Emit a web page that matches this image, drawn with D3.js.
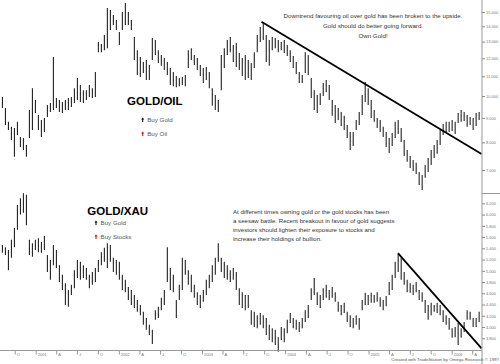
<!DOCTYPE html>
<html>
<head>
<meta charset="utf-8">
<script src="https://cdn.jsdelivr.net/npm/d3@7"></script>
<style>
body { margin: 0; background: #fff; }
svg { display: block; font-family: "Liberation Sans", Arial, sans-serif; }
</style>
</head>
<body>
<script>
var width = 500, height = 364;

// one bar roughly every 13 days, first bar in early Aug 2000
var startDate = new Date(2000, 7, 8), stepDays = 13.16;

var goldOilHigh = [
  9.95, 9.44, 8.83, 8.62, 8.57, 8.83, 8.21, 8.17, 7.90, 9.35,
  10.39, 9.81, 9.13, 8.91, 9.00, 9.58, 9.67, 12.07, 9.91, 9.81,
  9.72, 9.81, 9.91, 9.95, 10.39, 10.91, 10.55, 10.29, 10.29, 10.55,
  10.39, 11.23, 12.98, 12.85, 13.42, 15.29, 15.14, 14.78, 14.43, 13.62,
  15.00, 15.66, 15.00, 14.43, 13.30, 12.48, 12.07, 11.79, 11.90, 11.62,
  13.23, 13.10, 12.48, 12.19, 12.02, 11.79, 11.45, 11.23, 11.02, 10.91,
  10.96, 11.07, 12.48, 12.60, 12.19, 12.02, 11.62, 11.45, 11.51, 11.23,
  10.39, 10.05, 9.81, 12.19, 12.60, 13.10, 13.30, 12.79, 12.91, 12.31,
  12.02, 12.19, 11.90, 11.73, 12.36, 13.42, 13.95, 14.29, 13.42, 13.10,
  13.30, 13.23, 13.10, 12.98, 13.10, 12.79, 12.48, 12.13, 11.79, 11.23,
  11.07, 12.36, 12.19, 10.91, 10.29, 10.05, 10.14, 10.65, 10.80, 10.55,
  9.81, 9.58, 9.44, 9.26, 9.09, 8.70, 8.41, 8.41, 8.91, 9.26,
  10.05, 10.70, 10.39, 9.81, 9.35, 9.00, 8.91, 8.62, 8.41, 8.17,
  8.37, 8.83, 8.91, 8.57, 8.09, 7.71, 7.49, 7.35, 7.25, 6.93,
  6.83, 7.17, 7.42, 7.71, 7.90, 8.09, 8.49, 8.74, 8.83, 8.83,
  8.91, 8.83, 9.22, 9.35, 9.26, 9.13, 9.04, 9.00, 9.22, 9.26
];
var goldOilLow = [
  9.44, 8.70, 8.49, 8.09, 7.46, 8.29, 7.82, 7.71, 7.46, 8.17,
  8.49, 9.22, 8.49, 8.21, 8.41, 9.04, 9.26, 9.35, 9.44, 9.26,
  9.22, 9.35, 9.35, 9.49, 9.67, 9.81, 9.72, 9.67, 9.81, 9.95,
  9.91, 9.95, 12.36, 12.36, 12.48, 12.60, 13.75, 14.09, 13.75, 12.79,
  13.75, 14.09, 14.09, 13.75, 11.90, 11.07, 10.96, 11.18, 10.80, 10.80,
  11.90, 12.19, 11.73, 11.57, 11.34, 11.07, 10.55, 10.49, 10.44, 10.49,
  10.55, 10.49, 11.45, 11.90, 11.62, 11.34, 11.02, 10.65, 10.80, 10.39,
  9.54, 9.35, 9.26, 10.29, 11.45, 12.19, 12.36, 11.79, 11.51, 11.34,
  11.02, 10.80, 10.91, 10.80, 11.45, 12.36, 12.98, 13.10, 11.79, 11.57,
  12.48, 12.60, 12.36, 12.48, 12.31, 12.13, 11.79, 11.45, 11.12, 10.65,
  10.65, 11.18, 11.07, 9.91, 9.35, 9.22, 9.58, 10.00, 10.19, 9.81,
  9.09, 8.78, 8.91, 8.66, 8.49, 8.17, 7.71, 7.86, 8.49, 8.70,
  9.13, 9.72, 9.58, 9.00, 8.83, 8.57, 8.41, 8.21, 7.82, 7.60,
  7.86, 8.17, 8.33, 8.01, 7.49, 7.28, 7.07, 6.97, 6.87, 6.51,
  6.36, 6.74, 6.93, 7.17, 7.42, 7.57, 7.90, 8.29, 8.37, 8.41,
  8.45, 8.33, 8.78, 8.83, 8.87, 8.62, 8.70, 8.49, 8.66, 8.91
];

var goldXauHigh = [
  5.46, 5.42, 5.37, 5.55, 5.76, 6.17, 6.29, 6.38, 6.35, 5.55,
  5.49, 5.55, 5.58, 5.51, 5.62, 5.28, 5.19, 5.46, 5.37, 5.10,
  4.93, 4.78, 4.66, 4.75, 5.01, 5.19, 5.16, 5.10, 5.05, 4.93,
  4.98, 5.05, 5.19, 5.33, 5.41, 5.49, 5.46, 5.23, 5.19, 5.16,
  4.93, 4.84, 4.71, 4.66, 4.57, 4.48, 4.39, 4.27, 4.16, 4.04,
  3.95, 4.30, 4.36, 4.52, 4.66, 5.42, 5.05, 4.93, 4.48, 4.75,
  5.23, 5.19, 5.01, 4.93, 4.75, 4.62, 4.57, 4.66, 4.84, 4.93,
  5.10, 5.23, 5.49, 5.23, 5.16, 5.10, 5.01, 5.05, 4.98, 4.69,
  4.62, 4.57, 4.57, 4.30, 4.27, 4.21, 4.25, 4.21, 4.16, 4.04,
  3.98, 3.95, 3.82, 4.00, 3.98, 4.13, 4.25, 4.16, 4.13, 4.09,
  4.16, 4.30, 4.39, 4.69, 4.87, 4.62, 4.57, 4.69, 4.75, 4.66,
  4.71, 4.62, 4.45, 4.39, 4.43, 4.27, 4.21, 4.16, 4.21, 4.16,
  4.48, 4.61, 4.57, 4.61, 4.57, 4.62, 4.53, 4.48, 4.55, 4.80,
  4.93, 5.16, 5.32, 5.23, 4.98, 4.84, 4.78, 4.75, 4.80, 4.66,
  4.62, 4.48, 4.39, 4.43, 4.39, 4.43, 4.39, 4.30, 4.21, 4.16,
  3.98, 4.00, 4.07, 3.98, 4.09, 4.30, 4.27, 4.16, 4.16, 4.27
];
var goldXauLow = [
  5.32, 5.28, 5.01, 5.23, 5.42, 5.73, 6.00, 6.03, 5.81, 5.28,
  5.25, 5.37, 5.33, 5.32, 5.37, 4.98, 4.84, 5.10, 5.05, 4.80,
  4.66, 4.39, 4.36, 4.57, 4.69, 4.87, 4.84, 4.87, 4.84, 4.69,
  4.75, 4.80, 4.98, 5.10, 5.16, 5.05, 5.16, 4.98, 4.93, 4.84,
  4.66, 4.62, 4.48, 4.39, 4.34, 4.27, 4.21, 4.04, 3.95, 3.86,
  3.70, 4.13, 4.16, 4.30, 4.39, 4.80, 4.66, 4.62, 4.16, 4.48,
  4.66, 4.93, 4.75, 4.62, 4.52, 4.39, 4.34, 4.45, 4.57, 4.69,
  4.80, 4.93, 5.16, 4.98, 4.87, 4.84, 4.80, 4.84, 4.66, 4.39,
  4.34, 4.30, 4.34, 4.04, 4.00, 3.98, 4.04, 3.98, 3.86, 3.77,
  3.73, 3.68, 3.56, 3.77, 3.73, 3.89, 4.07, 3.98, 3.95, 3.91,
  3.98, 4.09, 4.16, 4.48, 4.57, 4.39, 4.34, 4.48, 4.52, 4.48,
  4.52, 4.45, 4.27, 4.21, 4.25, 4.09, 4.00, 3.98, 4.04, 3.95,
  4.30, 4.39, 4.39, 4.43, 4.43, 4.45, 4.36, 4.30, 4.37, 4.57,
  4.66, 4.87, 4.98, 4.84, 4.75, 4.62, 4.61, 4.57, 4.62, 4.48,
  4.45, 4.25, 4.13, 4.21, 4.27, 4.25, 4.21, 4.09, 4.04, 3.95,
  3.81, 3.82, 3.68, 3.81, 3.91, 4.13, 4.13, 4.00, 4.00, 4.09
];

var goldOilTicks = [7, 8, 9, 10, 11, 12, 13, 14, 15];
var goldXauTicks = [3.8, 4.0, 4.2, 4.4, 4.6, 4.8, 5.0, 5.2, 5.4, 5.6, 5.8, 6.0, 6.2];

// trend lines drawn on the chart
var goldOilTrend = [[new Date(2003, 8, 19), 14.31], [new Date(2006, 4, 12), 7.56]];
var goldXauTrend = [[new Date(2005, 4, 11), 5.31], [new Date(2006, 4, 12), 3.62]];

var oilNote = ["Downtrend favouring oil over gold has been broken to the upside.",
  "Gold should do better going forward.", "Own Gold!"];
var xauNote = ["At different times owning gold or the gold stocks has been",
  "a seesaw battle. Recent breakout in favour of gold suggests",
  "investors should lighten their exposure to stocks and",
  "increase their holdings of bullion."];

var axisX = 482;

var svg = d3.select("body").append("svg")
  .attr("width", width)
  .attr("height", height);

var x = d3.scaleTime()
  .domain([new Date(2001, 0, 1), new Date(2006, 0, 1)])
  .range([35.7, 451.7]);

var yOil = d3.scaleLog().domain([7, 15]).range([170, 12]);
var yXau = d3.scaleLinear().domain([3.8, 6.2]).range([338.3, 203.3]);

function barDate(i) {
  return new Date(startDate.getTime() + i * stepDays * 864e5);
}

function drawBars(highs, lows, y) {
  svg.append("g").selectAll("line")
    .data(highs)
    .enter().append("line")
    .attr("x1", function (d, i) { return x(barDate(i)); })
    .attr("x2", function (d, i) { return x(barDate(i)); })
    .attr("y1", function (d) { return y(d); })
    .attr("y2", function (d, i) { return y(lows[i]); })
    .attr("stroke", "#222")
    .attr("stroke-width", 1.1);
}
drawBars(goldOilHigh, goldOilLow, yOil);
drawBars(goldXauHigh, goldXauLow, yXau);

function drawTrend(pts, y) {
  svg.append("line")
    .attr("x1", x(pts[0][0])).attr("y1", y(pts[0][1]))
    .attr("x2", x(pts[1][0])).attr("y2", y(pts[1][1]))
    .attr("stroke", "#000")
    .attr("stroke-width", 1.8);
}
drawTrend(goldOilTrend, yOil);
drawTrend(goldXauTrend, yXau);

// right price axes
function drawAxis(y, ticks) {
  var g = svg.append("g")
    .attr("transform", "translate(" + axisX + ",0)")
    .call(d3.axisRight(y).tickValues(ticks).tickFormat(d3.format(".3f")).tickSize(3).tickPadding(1));
  g.select(".domain").remove();
  g.selectAll("line").attr("stroke", "#888");
  g.selectAll("text").attr("fill", "#777").style("font-size", "4px");
}
drawAxis(yOil, goldOilTicks);
drawAxis(yXau, goldXauTicks);

svg.append("line")
  .attr("x1", axisX).attr("x2", axisX).attr("y1", 0).attr("y2", height)
  .attr("stroke", "#999");
svg.append("line")
  .attr("x1", axisX).attr("x2", width).attr("y1", 193.5).attr("y2", 193.5)
  .attr("stroke", "#999");

// time axis, one tick per quarter
var quarters = d3.timeMonth.every(3).range(new Date(2000, 9, 1), new Date(2006, 5, 1));
var gx = svg.append("g")
  .attr("transform", "translate(0,350.5)")
  .call(d3.axisBottom(x).tickValues(quarters).tickSize(4)
    .tickFormat(function (d) { return d.getMonth() === 0 ? d3.timeFormat("%Y")(d) : d3.timeFormat("%b")(d).charAt(0); }));
gx.select(".domain").attr("stroke", "#999").attr("d", "M0,0H" + axisX);
gx.selectAll("line").attr("stroke", "#999");
gx.selectAll("text")
  .attr("text-anchor", "start")
  .attr("x", 1.5)
  .attr("y", 3)
  .attr("dy", "0.71em")
  .attr("fill", "#777")
  .style("font-size", "4px");

// titles and legends
function legend(title, tx, ty, items, mx, my) {
  svg.append("text")
    .attr("x", tx).attr("y", ty)
    .style("font-size", "11.5px").style("font-weight", "bold")
    .attr("fill", "#000")
    .text(title);
  items.forEach(function (it, i) {
    var cy = my + i * 14;
    svg.append("path")
      .attr("d", "M" + mx + "," + (cy - 2.5) + "l-1.5,2h1v2.5h1v-2.5h1z")
      .attr("fill", it.color);
    svg.append("text")
      .attr("x", mx + 4.5).attr("y", cy)
      .attr("dy", "0.35em")
      .style("font-size", "6.2px")
      .attr("fill", "#555")
      .text(it.label);
  });
}
legend("GOLD/OIL", 127, 105, [{ label: "Buy Gold", color: "#000" }, { label: "Buy Oil", color: "#d00" }], 142.7, 120);
legend("GOLD/XAU", 87.3, 215, [{ label: "Buy Gold", color: "#000" }, { label: "Buy Stocks", color: "#d00" }], 96, 223);

svg.append("g").selectAll("text")
  .data(oilNote)
  .enter().append("text")
  .attr("x", 373)
  .attr("y", function (d, i) { return 15.7 + i * 10.3; })
  .attr("dy", "0.35em")
  .attr("text-anchor", "middle")
  .style("font-size", "6.2px")
  .attr("fill", "#333")
  .text(function (d) { return d; });

svg.append("g").selectAll("text")
  .data(xauNote)
  .enter().append("text")
  .attr("x", 233)
  .attr("y", function (d, i) { return 211.7 + i * 9.2; })
  .attr("dy", "0.35em")
  .style("font-size", "6.1px")
  .attr("fill", "#333")
  .text(function (d) { return d; });

svg.append("text")
  .attr("x", 499).attr("y", 361)
  .attr("text-anchor", "end")
  .style("font-size", "4.4px")
  .attr("fill", "#555")
  .text("Created with TradeStation by Omega Research \u00a9 1997");
</script>
</body>
</html>
